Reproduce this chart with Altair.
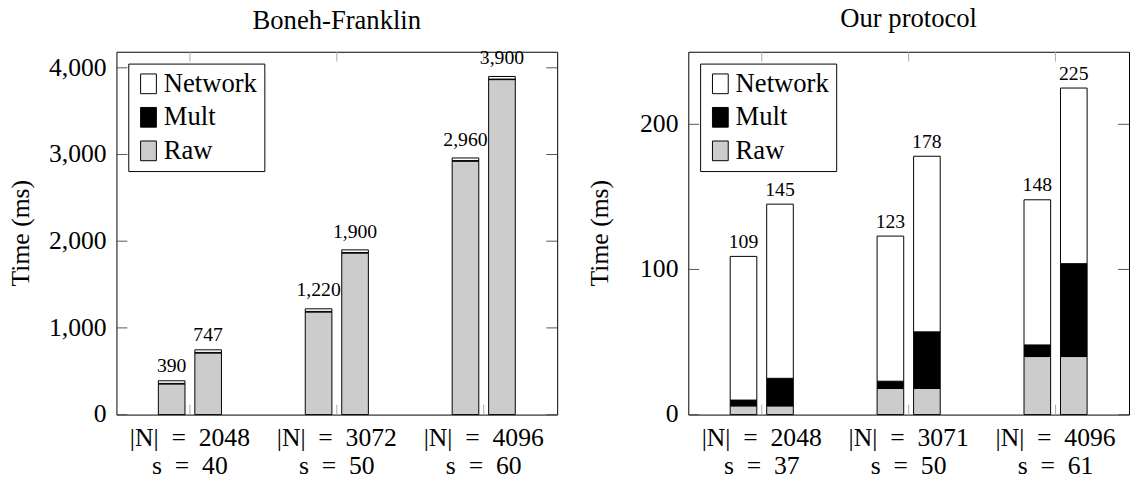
import altair as alt
import pandas as pd

FONT = "Liberation Serif"
SP = "\u2002"

# ---------------- data ----------------
bars = ["A", "B"]
parts = ["Network", "Mult", "Raw"]
part_colors = ["white", "black", "#cccccc"]
ytitle = "Time (ms)"

bf_groups = [f"|N|{SP}={SP}2048\ns{SP}={SP}40",
             f"|N|{SP}={SP}3072\ns{SP}={SP}50",
             f"|N|{SP}={SP}4096\ns{SP}={SP}60"]
bf_totals = [390, 747, 1220, 1900, 2960, 3900]
bf_raw = [354, 711, 1184, 1864, 2924, 3864]
bf_mult = [6, 6, 6, 6, 6, 6]
bf_network = [30, 30, 30, 30, 30, 30]
bf_yticks = [0, 1000, 2000, 3000, 4000]

our_groups = [f"|N|{SP}={SP}2048\ns{SP}={SP}37",
              f"|N|{SP}={SP}3071\ns{SP}={SP}50",
              f"|N|{SP}={SP}4096\ns{SP}={SP}61"]
our_totals = [109, 145, 123, 178, 148, 225]
our_raw = [6, 6, 18, 18, 40, 40]
our_mult = [4, 19, 5, 39, 8, 64]
our_network = [99, 120, 100, 121, 100, 121]
our_yticks = [0, 100, 200]

W, H = 447, 368


def panel(title, groups, raw, mult, net, totals, ymax, yticks, title_x, title_y):
    rows = []
    for i in range(len(totals)):
        g = groups[i // 2]
        b = bars[i % 2]
        rows.append({"grp": g, "bar": b, "part": "Raw", "ord": 0, "ms": raw[i]})
        rows.append({"grp": g, "bar": b, "part": "Mult", "ord": 1, "ms": mult[i]})
        rows.append({"grp": g, "bar": b, "part": "Network", "ord": 2, "ms": net[i]})
    df = pd.DataFrame(rows)
    lab = pd.DataFrame({"grp": [groups[i // 2] for i in range(len(totals))],
                        "bar": [bars[i % 2] for i in range(len(totals))],
                        "ms": totals})
    yt = pd.DataFrame({"ms": yticks})
    xt = pd.DataFrame({"grp": groups})
    tt = pd.DataFrame({"t": [title]})
    yl = pd.DataFrame({"t": [ytitle]})

    x_enc = alt.X("grp:N", sort=groups,
                  scale=alt.Scale(paddingInner=0, paddingOuter=0), axis=None)
    xo_enc = alt.XOffset("bar:N", sort=bars,
                         scale=alt.Scale(range=[42.5, 106.5], paddingInner=0.27,
                                         paddingOuter=0))
    y_enc = alt.Y("ms:Q", scale=alt.Scale(domain=[0, ymax], nice=False, zero=True),
                  axis=None)

    bar_layer = alt.Chart(df).mark_bar(stroke="black", strokeWidth=1).encode(
        x=x_enc, xOffset=xo_enc, y=y_enc,
        color=alt.Color("part:N", scale=alt.Scale(domain=parts, range=part_colors),
                        legend=alt.Legend(title=None, orient="top-left", offset=12,
                                          labelFont=FONT, labelFontSize=27,
                                          labelColor="black", labelOffset=2,
                                          symbolType="M-0.8,-1H0.8V1H-0.8Z",
                                          symbolSize=400, symbolStrokeColor="black",
                                          symbolStrokeWidth=1, symbolOpacity=1,
                                          strokeColor="black", fillColor="white",
                                          padding=7, rowPadding=6, cornerRadius=0)),
        order=alt.Order("ord:Q", sort="ascending"),
    )
    txt_small = alt.Chart(lab).transform_filter("datum.ms < 1000").mark_text(
        font=FONT, fontSize=20, baseline="alphabetic", dy=-8.5, color="black"
    ).encode(x=x_enc, xOffset=xo_enc, y=y_enc, text=alt.Text("ms:Q", format=",d"))
    txt_big = alt.Chart(lab).transform_filter("datum.ms >= 1000").mark_text(
        font=FONT, fontSize=20, baseline="alphabetic", dy=-12.5, color="black"
    ).encode(x=x_enc, xOffset=xo_enc, y=y_enc, text=alt.Text("ms:Q", format=",d"))

    # axis pieces
    ylabels = alt.Chart(yt).mark_text(
        font=FONT, fontSize=26, align="right", baseline="middle", dx=-10, color="black"
    ).encode(y=y_enc, x=alt.value(0), text=alt.Text("ms:Q", format=",d"))
    ytitle_mark = alt.Chart(yl).mark_text(
        font=FONT, fontSize=26, angle=270, align="center", baseline="bottom", color="black"
    ).encode(text="t:N", x=alt.value(title_x), y=alt.value(H / 2))
    xlabels = alt.Chart(xt).mark_text(
        font=FONT, fontSize=26, align="center", baseline="top", lineBreak="\n",
        lineHeight=28, color="black"
    ).encode(x=x_enc, y=alt.value(H + 11), text="grp:N")

    ytick_l = alt.Chart(yt).mark_rule(color="#555555", strokeWidth=1).encode(
        y=y_enc, x=alt.value(0), x2=alt.value(11))
    ytick_r = alt.Chart(yt).mark_rule(color="#555555", strokeWidth=1).encode(
        y=y_enc, x=alt.value(W - 11), x2=alt.value(W))
    xtick_b = alt.Chart(xt).mark_rule(color="#aaaaaa", strokeWidth=1).encode(
        x=x_enc, y=alt.value(H), y2=alt.value(H - 10))
    xtick_t = alt.Chart(xt).mark_rule(color="#aaaaaa", strokeWidth=1).encode(
        x=x_enc, y=alt.value(0), y2=alt.value(10))
    title_mark = alt.Chart(tt).mark_text(
        font=FONT, fontSize=27, baseline="alphabetic", align="center", color="black"
    ).encode(text="t:N", x=alt.value(W / 2), y=alt.value(title_y))

    return alt.layer(bar_layer, txt_small, txt_big, ytick_l, ytick_r, xtick_b,
                     xtick_t, ylabels, ytitle_mark, xlabels,
                     title_mark).properties(width=W, height=H)


left = panel("Boneh-Franklin", bf_groups, bf_raw, bf_mult, bf_network, bf_totals,
             4185, bf_yticks, -83.5, -23)
right = panel("Our protocol", our_groups, our_raw, our_mult, our_network, our_totals,
              250, our_yticks, -76, -25)

chart = alt.hconcat(left, right, spacing=133, bounds="flush").resolve_scale(
    color="independent", y="independent", x="independent"
).resolve_legend(color="independent").properties(
    padding={"left": 0, "top": -7, "right": 0, "bottom": 0}
).configure(
    background="white", font=FONT,
).configure_view(stroke="black", strokeWidth=1).configure_legend(labelFont=FONT)

chart.save("out.html", embed_options={"renderer": "svg", "actions": False})
